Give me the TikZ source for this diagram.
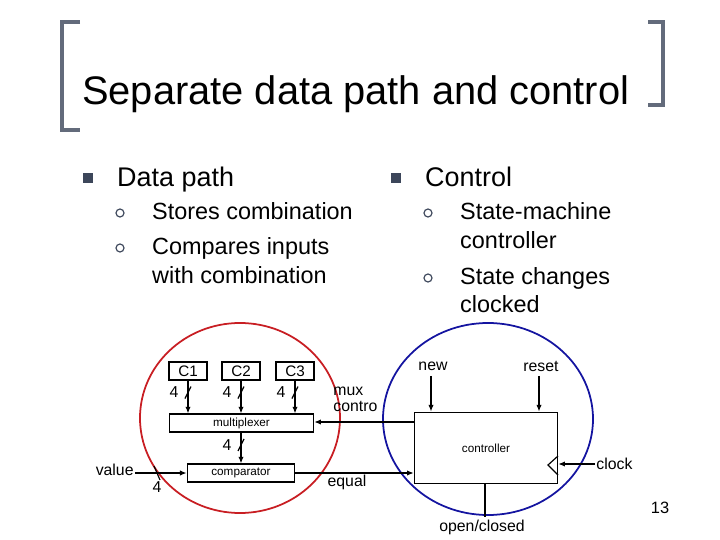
\documentclass[tikz,border=0pt]{standalone}
\usepackage{fontspec}
\setmainfont{Liberation Sans}
\usetikzlibrary{arrows.meta, positioning, calc}
\definecolor{cBullet}{RGB}{60, 70, 90}
\definecolor{cRed}{RGB}{200, 30, 35}
\definecolor{cBlue}{RGB}{20, 20, 160}
\tikzset{
    blockBox/.style={
        draw, line width=1pt, inner sep=0pt, font=\fontsize{10}{12}\selectfont
    },
    wireArrow/.style={
        -{Latex[length=2mm, width=1.6mm]}, line width=1pt
    },
    sigLabel/.style={
        font=\fontsize{13.5}{15}\selectfont, inner sep=1pt
    },
    busSlash/.style={
        line width=1pt
    }
}
\begin{document}
\begin{tikzpicture}[x=0.03cm, y=-0.03cm]

	\useasboundingbox (0,0) rectangle (720,540);

	% =========================================================
	% Title
	% =========================================================

	\draw [line width=4pt, cBullet!80] (80,22) -- (62,22) -- (62,130) -- (80,130);
	\draw [line width=4pt, cBullet!80] (648,22) -- (663,22) -- (663,105) -- (648,105);
	\node [anchor=base west, inner sep=0pt, font=\fontsize{34}{36}\selectfont] (title) at (82,105) {Separate data path and control};

	% =========================================================
	% Bullets
	% =========================================================

	\fill [cBullet] (83,173) rectangle (93,183);
	\fill [cBullet] (391,173) rectangle (401,183);
	\node [anchor=base west, inner sep=0pt, font=\fontsize{23}{26}\selectfont] (dp) at (117,187) {Data path};
	\node [anchor=base west, inner sep=0pt, font=\fontsize{23}{26}\selectfont] (ctl) at (425,187) {Control};

	\foreach \x/\y in {120/213, 120/248, 428/213, 428/278} {
			\draw [cBullet, line width=1pt] (\x,\y) circle (4);
		}
	\begin{scope}[every node/.style={anchor=base west, inner sep=0pt, font=\fontsize{20}{21}\selectfont}]
		\node (s1) at (152,220) {Stores combination};
		\node (s2) at (152,255) {Compares inputs};
		\node (s3) at (152,284) {with combination};
		\node (s4) at (460,220) {State-machine};
		\node (s5) at (460,249) {controller};
		\node (s6) at (460,285) {State changes};
		\node (s7) at (460,313) {clocked};
	\end{scope}

	% =========================================================
	% Data path blocks
	% =========================================================

	\draw [cRed, line width=1.5pt] (240,418) ellipse (100 and 95);
	\draw [cBlue, line width=1.5pt] (488,419) ellipse (105 and 96);

	\node [blockBox, minimum width=38*0.85pt, minimum height=18*0.85pt, font=\fontsize{13}{15}\selectfont] (c1) at (188,371) {C1};
	\node [blockBox, minimum width=38*0.85pt, minimum height=18*0.85pt, font=\fontsize{13}{15}\selectfont] (c2) at (241,371) {C2};
	\node [blockBox, minimum width=38*0.85pt, minimum height=18*0.85pt, font=\fontsize{13}{15}\selectfont] (c3) at (295,371) {C3};
	\node [blockBox, minimum width=145*0.85pt, minimum height=18*0.85pt] (mux) at (241.5,423) {multiplexer};
	\node [blockBox, minimum width=108*0.85pt, minimum height=18*0.85pt] (cmp) at (241,473) {comparator};

	\foreach \c in {c1,c2,c3} {
			\draw [wireArrow] (\c.south) -- (\c.south |- mux.north);
			\draw [busSlash] ($(\c.south)+(-3,18)$) -- ($(\c.south)+(3,6)$);
			\node [sigLabel] at ($(\c.south)+(-14,12)$) {4};
		}
	\draw [wireArrow] (mux.south -| cmp.north) -- (cmp.north);
	\draw [busSlash] (238,451) -- (244,439);
	\node [sigLabel] at (227,445) {4};

	\node [sigLabel, anchor=east] (value) at (135,470) {value};
	\draw [wireArrow] (value.east |- cmp.west) -- (cmp.west);
	\draw [busSlash] (154,466) -- (160,480);
	\node [sigLabel] at (157,487) {4};

	% =========================================================
	% Controller
	% =========================================================

	\node [blockBox, minimum width=144*0.85pt, minimum height=72*0.85pt] (ctrl) at (486,448) {controller};
	\node [sigLabel] (new) at (433,366) {new};
	\node [sigLabel] (reset) at (541,366) {reset};
	\coordinate (newIn) at (431,376);
	\coordinate (resetIn) at (539,376);
	\draw [wireArrow] (newIn) -- (newIn |- ctrl.north);
	\draw [wireArrow] (resetIn) -- (resetIn |- ctrl.north);

	\coordinate (muxOut) at (414,422);
	\draw [wireArrow] (muxOut) -- (muxOut -| mux.east);
	\node [sigLabel, align=left, anchor=north west, font=\fontsize{13.5}{13}\selectfont] (muxc) at (332,386) {mux\\contro};

	\draw [wireArrow] (cmp.east) -- (cmp.east -| ctrl.west);
	\node [sigLabel] (equal) at (347,482) {equal};

	\draw [busSlash] (558,456) -- (548,465) -- (558,475);
	\node [sigLabel, anchor=west] (clock) at (595,464) {clock};
	\draw [wireArrow] (clock.west) -- (clock.west -| ctrl.east);

	\coordinate (ocEnd) at (485,517);
	\draw [line width=1pt] (ctrl.south -| ocEnd) -- (ocEnd);
	\node [sigLabel] (oc) at (482,527) {open/closed};

	\node [font=\fontsize{14}{16}\selectfont] (pnum) at (660,508) {13};

\end{tikzpicture}
\end{document}
